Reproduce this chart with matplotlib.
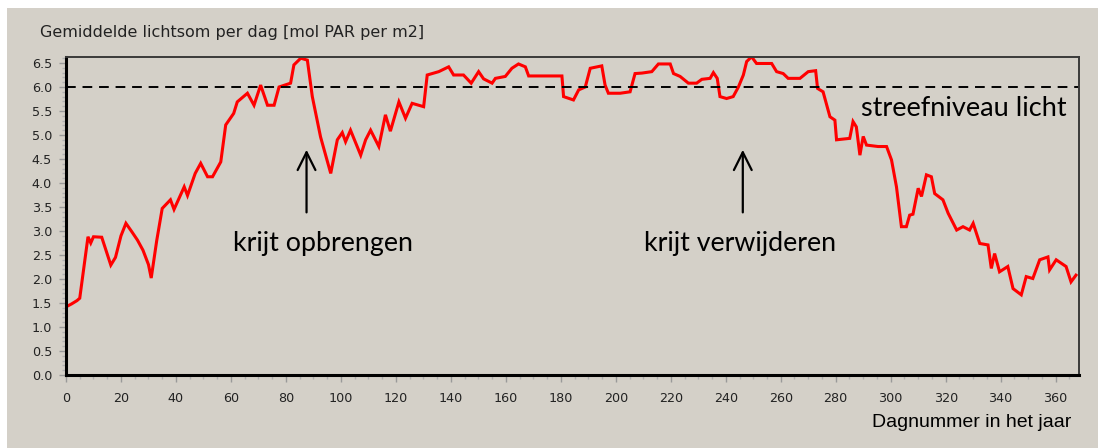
import matplotlib
matplotlib.use("Agg")
import matplotlib.pyplot as plt
from matplotlib.patches import Rectangle
from matplotlib.ticker import MultipleLocator

# dagnummer en gemiddelde lichtsom (mol PAR per m2 per dag)
dagen = [0, 2, 4, 5, 8, 9, 10, 13, 16.3, 18, 20, 21.8, 24, 26, 28, 30, 31, 33, 35, 38,
         39.3, 43, 44.2, 47, 49, 51.5, 53.3, 56.3, 58.1, 61, 62.3, 66, 68.4, 70.8, 73.3, 75.7,
         77.5, 81.7, 82.9, 85.4, 87.8, 89.6, 92.6, 96.3, 98.7, 100.5, 101.7, 103.5, 107.2, 109,
         110.8, 113.8, 116.2, 118, 121.1, 123.5, 125.9, 130.1, 131.4, 135.6, 139.2, 141, 144.6,
         147.4, 150.1, 151.9, 155, 156.2, 159.8, 162.2, 164.6, 167.1, 168.3, 180.4, 181, 184.6,
         186.5, 188.9, 190.7, 194.9, 196.1, 197.3, 201.6, 205.2, 207, 209.5, 213.1, 215.5, 219.8,
         221, 223.4, 226.4, 229.4, 231.3, 234.3, 235.5, 236.9, 237.9, 240.3, 242.7, 244.6, 246.4,
         247.6, 249.4, 251.2, 256.7, 258.5, 260.9, 262.7, 267, 270, 272.7, 273.4, 275.4, 277.9,
         279.7, 280.3, 285.1, 286.3, 287.5, 288.8, 290, 291.2, 295.4, 298.5, 300.3, 302.1, 303.9,
         305.7, 306.9, 308.1, 310, 311.2, 313, 314.8, 316, 319, 320.9, 324, 326.3, 328.7, 330,
         332.4, 335.4, 336.6, 337.8, 339.6, 342.6, 344.5, 347.5, 349.3, 351.7, 354.2, 357.2,
         357.8, 360.2, 363.8, 365.6, 367.4]
licht = [1.42, 1.48, 1.55, 1.6, 2.88, 2.75, 2.88, 2.87, 2.29, 2.45, 2.9, 3.16, 2.98, 2.81, 2.6,
         2.3, 2.02, 2.8, 3.47, 3.65, 3.45, 3.92, 3.74, 4.2, 4.41, 4.13, 4.13, 4.44, 5.21, 5.45,
         5.69, 5.87, 5.62, 6.04, 5.62, 5.62, 6.0, 6.08, 6.46, 6.6, 6.56, 5.8, 4.96, 4.2, 4.9,
         5.05, 4.86, 5.1, 4.58, 4.9, 5.1, 4.76, 5.42, 5.08, 5.69, 5.35, 5.66, 5.59, 6.25, 6.32,
         6.42, 6.25, 6.25, 6.08, 6.32, 6.17, 6.08, 6.18, 6.22, 6.39, 6.48, 6.42, 6.23, 6.23, 5.8,
         5.73, 5.94, 6.0, 6.39, 6.44, 6.04, 5.87, 5.87, 5.9, 6.28, 6.29, 6.32, 6.48, 6.48, 6.28,
         6.22, 6.08, 6.08, 6.16, 6.18, 6.3, 6.18, 5.8, 5.76, 5.8, 6.0, 6.25, 6.53, 6.63, 6.49,
         6.49, 6.32, 6.28, 6.18, 6.18, 6.32, 6.34, 5.97, 5.9, 5.38, 5.31, 4.9, 4.93, 5.28, 5.17,
         4.58, 4.97, 4.79, 4.76, 4.76, 4.48, 3.92, 3.09, 3.09, 3.33, 3.35, 3.89, 3.72, 4.17, 4.13,
         3.78, 3.65, 3.37, 3.02, 3.09, 3.02, 3.16, 2.74, 2.71, 2.22, 2.53, 2.15, 2.26, 1.8, 1.67,
         2.05, 2.01, 2.4, 2.46, 2.19, 2.4, 2.26, 1.94, 2.08]

streefniveau = 6.0
pijl_dagen = [87.5, 246.2]
pijl_teksten = ["krijt opbrengen", "krijt verwijderen"]

grijs = "#D4D0C8"
fig = plt.figure(figsize=(10.98, 4.48), dpi=100, facecolor="white")
fig.patches.append(Rectangle((7 / 1098, 0), 1, 440 / 448, transform=fig.transFigure,
                             facecolor=grijs, edgecolor="none", zorder=-10))
ax = fig.add_axes([66 / 1098, 1 - 375 / 448, (1079 - 66) / 1098, (375 - 57) / 448])
ax.set_facecolor(grijs)

ax.plot(dagen, licht, color="red", lw=2.2, solid_joinstyle="miter")
ax.axhline(streefniveau, color="black", lw=1.4, ls=(0, (5, 3.5)))

ax.set_xlim(0, 368.5)
ax.set_ylim(0, 6.625)
ax.xaxis.set_major_locator(MultipleLocator(20))
ax.xaxis.set_minor_locator(MultipleLocator(5))
ax.yaxis.set_major_locator(MultipleLocator(0.5))
ax.yaxis.set_minor_locator(MultipleLocator(0.1))
ax.yaxis.set_major_formatter(matplotlib.ticker.FormatStrFormatter("%.1f"))
ax.tick_params(which="major", length=5, color="#9A9A9A", width=1, labelsize=9.2,
               labelcolor="#222222")
ax.tick_params(axis="x", which="major", pad=7)
ax.tick_params(axis="y", which="major", pad=5)
ax.tick_params(which="minor", length=3, color="#B0B0B0", width=1)

for s in ["left", "bottom"]:
    ax.spines[s].set_linewidth(2.2)
    ax.spines[s].set_color("black")
for s in ["top", "right"]:
    ax.spines[s].set_linewidth(1.4)
    ax.spines[s].set_color("#3A3A3A")

for d, t in zip(pijl_dagen, pijl_teksten):
    ax.annotate("", xy=(d, 4.75), xytext=(d, 3.33),
                arrowprops=dict(arrowstyle="->", color="black", lw=1.6, mutation_scale=32))
    ax.text(d + 6 if d < 100 else d - 1, 2.73, t, ha="center", va="center",
            fontsize=19.3, family="Lato", color="black")

ax.text(326.5, 5.56, "streefniveau licht", ha="center", va="center",
        fontsize=19.5, family="Lato", color="black")

fig.text(40 / 1098, 1 - 33 / 448, "Gemiddelde lichtsom per dag [mol PAR per m2]",
         ha="left", va="center", fontsize=11.5, color="#222222")
fig.text(1071 / 1098, 1 - 422 / 448, "Dagnummer in het jaar", ha="right", va="center",
         fontsize=14, family="Liberation Sans", color="black")

fig.savefig("out.png", dpi=100, facecolor=fig.get_facecolor())
